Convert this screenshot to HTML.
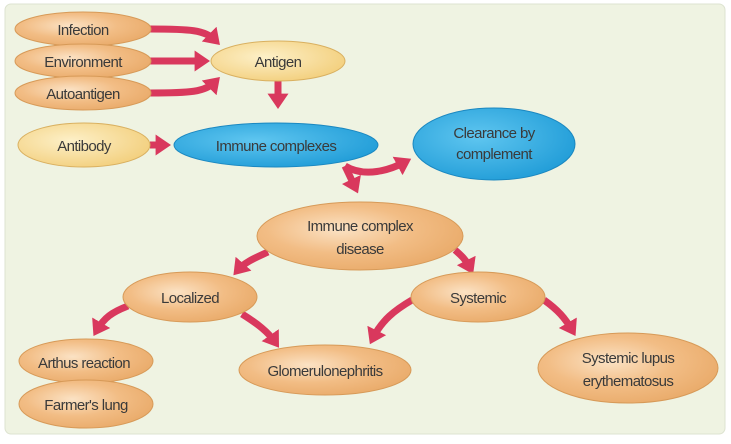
<!DOCTYPE html>
<html><head><meta charset="utf-8"><style>
html,body{margin:0;padding:0;background:#fff;width:731px;height:444px;overflow:hidden}
svg text{font-family:"Liberation Sans",sans-serif;font-size:15px;fill:#3a3a3a;text-anchor:middle;letter-spacing:-0.6px}
</style></head><body>
<svg width="731" height="444" viewBox="0 0 731 444">
<defs>
<radialGradient id="o" cx="0.4" cy="0.4" r="0.7"><stop offset="0" stop-color="#fbe2c4"/><stop offset="0.5" stop-color="#f2bd85"/><stop offset="1" stop-color="#e8a866"/></radialGradient>
<radialGradient id="y" cx="0.4" cy="0.4" r="0.7"><stop offset="0" stop-color="#fdf0c8"/><stop offset="1" stop-color="#f2cd78"/></radialGradient>
<radialGradient id="b" cx="0.4" cy="0.4" r="0.7"><stop offset="0" stop-color="#5fc6f0"/><stop offset="1" stop-color="#1d9ad6"/></radialGradient>
<marker id="h" markerWidth="3" markerHeight="3" refX="1.2" refY="1.5" orient="auto" markerUnits="strokeWidth"><path d="M0,0 L2.2,1.5 L0,3 z" fill="#d9385d"/></marker>
</defs>
<rect x="5" y="4" width="720" height="430" rx="6" fill="#eff3e2" stroke="#dde3d0"/>
<g fill="none" stroke="#d9385d" stroke-width="7" marker-end="url(#h)">
<path d="M150,29 C190,29 205,30 215,40"/>
<path d="M150,61 L203,61"/>
<path d="M150,93 C190,93 205,92 215,82"/>
<path d="M278,80 L278,102"/>
<path d="M150,145 L164,145"/>
<path d="M345,166 C365,178 390,170 405,162"/>
<path d="M345,166 L355,187"/>
<path d="M268,252 C255,258 245,262 238,270"/>
<path d="M455,250 C462,256 466,260 470,268"/>
<path d="M128,306 C112,312 104,318 97,330"/>
<path d="M242,314 C258,324 268,332 275,342"/>
<path d="M412,300 C395,310 382,320 373,338"/>
<path d="M544,300 C558,310 565,318 572,330"/>
</g>
<ellipse cx="83" cy="29" rx="68" ry="17" fill="url(#o)" stroke="#d79a58"/>
<ellipse cx="83" cy="61" rx="68" ry="17" fill="url(#o)" stroke="#d79a58"/>
<ellipse cx="83" cy="93" rx="68" ry="17" fill="url(#o)" stroke="#d79a58"/>
<ellipse cx="278" cy="61" rx="67" ry="20" fill="url(#y)" stroke="#d9b060"/>
<ellipse cx="84" cy="145" rx="66" ry="22" fill="url(#y)" stroke="#d9b060"/>
<ellipse cx="276" cy="145" rx="102" ry="22" fill="url(#b)" stroke="#1a87c0"/>
<ellipse cx="494" cy="144" rx="81" ry="36" fill="url(#b)" stroke="#1a87c0"/>
<ellipse cx="360" cy="236" rx="103" ry="34" fill="url(#o)" stroke="#d79a58"/>
<ellipse cx="190" cy="297" rx="67" ry="25" fill="url(#o)" stroke="#d79a58"/>
<ellipse cx="478" cy="297" rx="67" ry="25" fill="url(#o)" stroke="#d79a58"/>
<ellipse cx="86" cy="361" rx="67" ry="22" fill="url(#o)" stroke="#d79a58"/>
<ellipse cx="86" cy="404" rx="67" ry="24" fill="url(#o)" stroke="#d79a58"/>
<ellipse cx="325" cy="370" rx="86" ry="25" fill="url(#o)" stroke="#d79a58"/>
<ellipse cx="628" cy="368" rx="90" ry="35" fill="url(#o)" stroke="#d79a58"/>
<text x="83" y="35">Infection</text>
<text x="83" y="67">Environment</text>
<text x="83" y="99">Autoantigen</text>
<text x="278" y="67">Antigen</text>
<text x="84" y="151">Antibody</text>
<text x="276" y="151">Immune complexes</text>
<text x="494" y="138">Clearance by</text>
<text x="494" y="159">complement</text>
<text x="360" y="231">Immune complex</text>
<text x="360" y="254">disease</text>
<text x="190" y="303">Localized</text>
<text x="478" y="303">Systemic</text>
<text x="84" y="368">Arthus reaction</text>
<text x="86" y="410">Farmer's lung</text>
<text x="325" y="376">Glomerulonephritis</text>
<text x="628" y="363">Systemic lupus</text>
<text x="628" y="386">erythematosus</text>
</svg>
</body></html>
